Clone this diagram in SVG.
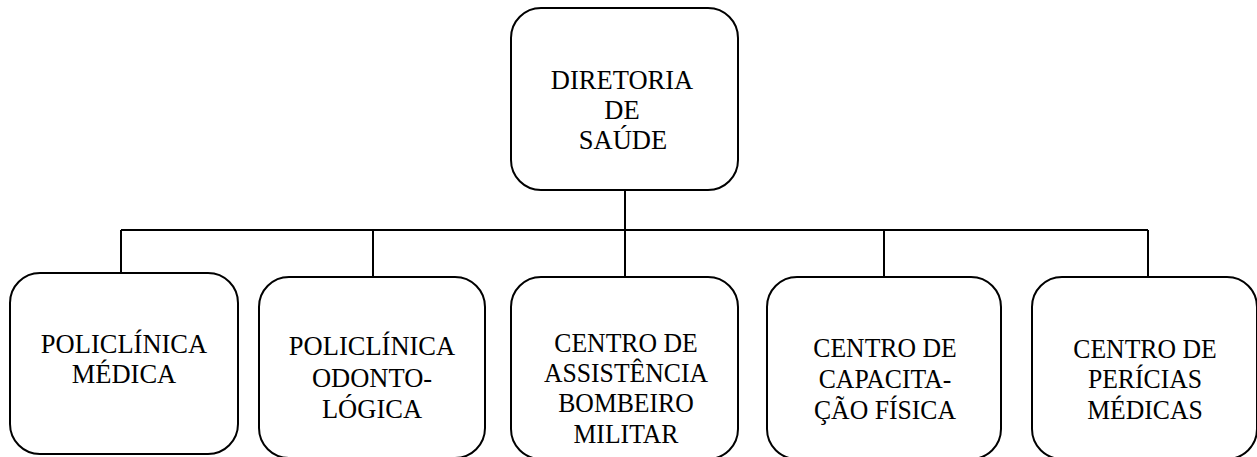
<svg xmlns="http://www.w3.org/2000/svg" width="1257" height="457" viewBox="0 0 1257 457">
<style>
.box{fill:#fff;stroke:#000;stroke-width:2}
.con{fill:none;stroke:#000;stroke-width:2}
</style>
<rect width="1257" height="457" fill="#fff"/>
<g id="connectors">
<line class="con" x1="625" y1="190" x2="625" y2="230"/>
<line class="con" x1="121" y1="230" x2="1148" y2="230"/>
<line class="con" x1="121" y1="230" x2="121" y2="273"/>
<line class="con" x1="373" y1="230" x2="373" y2="277"/>
<line class="con" x1="625" y1="230" x2="625" y2="277"/>
<line class="con" x1="884" y1="230" x2="884" y2="277"/>
<line class="con" x1="1148" y1="230" x2="1148" y2="277"/>
</g>
<g font-family="Liberation Serif, DejaVu Serif, serif" font-size="26.5" fill="#000" text-anchor="middle">
<g id="diretoria">
<rect class="box" x="511" y="8" width="227" height="182" rx="30" ry="30"/>
<text x="622" y="89">DIRETORIA</text>
<text x="622" y="119">DE</text>
<text x="623" y="149">SAÚDE</text>
</g>
<g id="policlinica-medica">
<rect class="box" x="10" y="273" width="228" height="181" rx="30" ry="30"/>
<text x="124" y="353">POLICLÍNICA</text>
<text x="124" y="383">MÉDICA</text>
</g>
<g id="policlinica-odontologica">
<rect class="box" x="259" y="277" width="226" height="181" rx="30" ry="30"/>
<text x="372" y="355">POLICLÍNICA</text>
<text x="372" y="387">ODONTO-</text>
<text x="372" y="418">LÓGICA</text>
</g>
<g id="centro-assistencia">
<rect class="box" x="511" y="277" width="227" height="182" rx="30" ry="30"/>
<g transform="translate(626 0) scale(0.97 1)">
<text x="0" y="352">CENTRO DE</text>
<text x="0" y="382">ASSISTÊNCIA</text>
<text x="0" y="412">BOMBEIRO</text>
<text x="0" y="443">MILITAR</text>
</g>
</g>
<g id="centro-capacitacao">
<rect class="box" x="767" y="277" width="234" height="182" rx="30" ry="30"/>
<g transform="translate(885 0) scale(0.97 1)">
<text x="0" y="357">CENTRO DE</text>
<text x="0" y="388">CAPACITA-</text>
<text x="0" y="419">ÇÃO FÍSICA</text>
</g>
</g>
<g id="centro-pericias">
<rect class="box" x="1032" y="277" width="225" height="182" rx="30" ry="30"/>
<g transform="translate(1145 0) scale(0.97 1)">
<text x="0" y="358">CENTRO DE</text>
<text x="0" y="388">PERÍCIAS</text>
<text x="0" y="419">MÉDICAS</text>
</g>
</g>
</g>
</svg>
